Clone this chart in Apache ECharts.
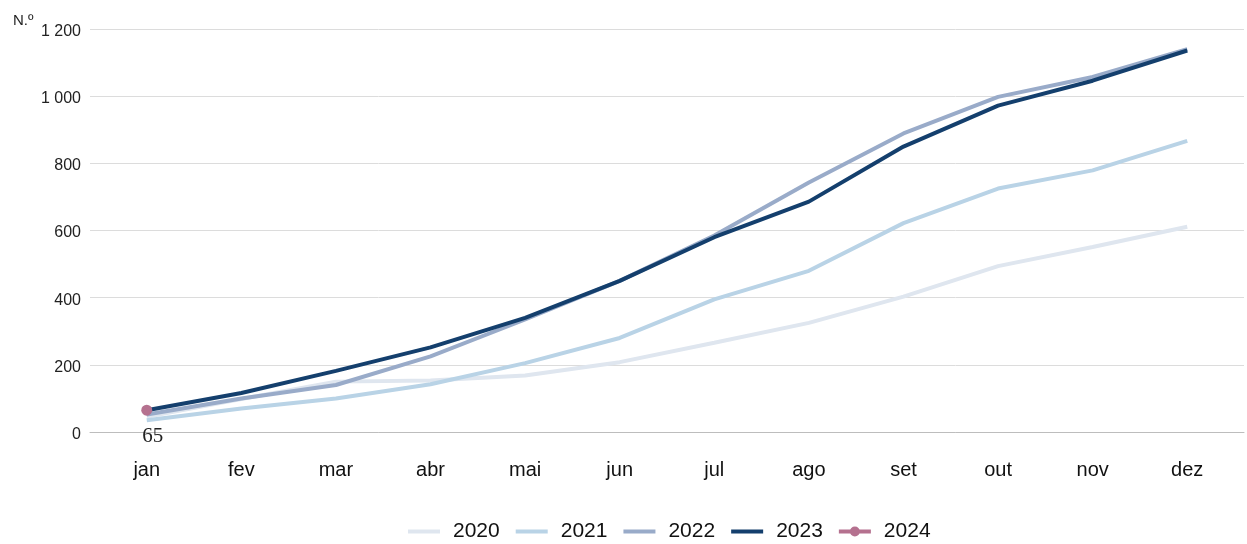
<!DOCTYPE html>
<html>
<head>
<meta charset="utf-8">
<script src="https://cdn.jsdelivr.net/npm/echarts@6/dist/echarts.min.js"></script>
<style>html,body{margin:0;padding:0;background:#fff}#c{width:1247px;height:544px}</style>
</head>
<body>
<div id="c"></div>
<script>
const months = ['jan','fev','mar','abr','mai','jun','jul','ago','set','out','nov','dez'];
const yTicks = [0, 200, 400, 600, 800, 1000, 1200];
const s2020 = [45, 98, 150, 153, 168, 208, 266, 325, 403, 494, 551, 611];
const s2021 = [35, 70, 100, 142, 205, 280, 395, 480, 622, 725, 779, 867];
const s2022 = [52, 100, 140, 225, 335, 450, 585, 743, 889, 998, 1057, 1140];
const s2023 = [65, 116, 182, 252, 340, 450, 580, 686, 850, 972, 1046, 1136];
const s2024 = [65];

const pairs = arr => arr.map((v, i) => [i, v]);
const fmt = v => { const s = String(v); return '{a|' + (s.length > 3 ? s.slice(0, s.length - 3) + ' ' + s.slice(-3) : s) + '}'; };

const lineIcon = 'path://M0,0 M32,10 M0,3 L32,3 L32,7 L0,7 Z';
const dotIcon = 'path://M0,0 M32,10 M0,3 L32,3 L32,7 L0,7 Z M21,5 A5,5 0 1 1 11,5 A5,5 0 1 1 21,5 Z';

const chart = echarts.init(document.getElementById('c'));
const lineSeries = (name, data, color, z) => ({
  name, type: 'line', data: pairs(data), symbol: 'none', z,
  lineStyle: { color, width: 4 }, itemStyle: { color }, emphasis: { disabled: true }
});
chart.setOption({
  animation: false,
  title: { text: 'N.º', left: 8, top: 8, textStyle: { fontFamily: 'Liberation Sans', fontSize: 15, fontWeight: 'normal', color: '#222' } },
  grid: { left: 90, right: 3, top: 29, bottom: 112 },
  legend: {
    bottom: -3, left: 403, itemWidth: 32, itemHeight: 10, itemGap: 16,
    textStyle: { fontFamily: 'Liberation Sans', fontSize: 21, color: '#111', padding: [0, 0, 0, 8] },
    data: [
      { name: '2020', icon: lineIcon },
      { name: '2021', icon: lineIcon },
      { name: '2022', icon: lineIcon },
      { name: '2023', icon: lineIcon },
      { name: '2024', icon: dotIcon }
    ]
  },
  xAxis: {
    type: 'value', min: -0.6, max: 11.6,
    axisLine: { show: true, lineStyle: { color: '#bdbdbd', width: 1 } },
    axisTick: { show: false },
    splitLine: { show: false },
    axisLabel: {
      customValues: months.map((m, i) => i),
      formatter: v => months[Math.round(v)],
      margin: 28, fontFamily: 'Liberation Sans', fontSize: 20, color: '#111'
    }
  },
  yAxis: {
    type: 'value', min: yTicks[0], max: yTicks[yTicks.length - 1], interval: 200,
    axisLine: { show: false }, axisTick: { show: false },
    splitLine: { lineStyle: { color: '#dcdcdc', width: 1 } },
    axisLabel: { formatter: fmt, margin: 9,
      rich: { a: { padding: [5, 0, 0, 0], fontFamily: 'Liberation Sans', fontSize: 16, color: '#222' } } }
  },
  series: [
    lineSeries('2020', s2020, '#dfe6ef', 1),
    lineSeries('2021', s2021, '#b9d3e6', 2),
    lineSeries('2022', s2022, '#99abc9', 3),
    lineSeries('2023', s2023, '#143f6d', 4),
    {
      name: '2024', type: 'line', data: pairs(s2024), symbol: 'circle', symbolSize: 11, z: 5,
      showSymbol: true,
      lineStyle: { color: '#b5718f', width: 4 }, itemStyle: { color: '#b5718f' },
      emphasis: { disabled: true },
      label: { show: true, position: 'bottom', distance: 10, offset: [6, 0], formatter: p => p.value[1],
        fontFamily: 'Liberation Serif', fontSize: 21, color: '#222' }
    }
  ]
});
</script>
</body>
</html>
